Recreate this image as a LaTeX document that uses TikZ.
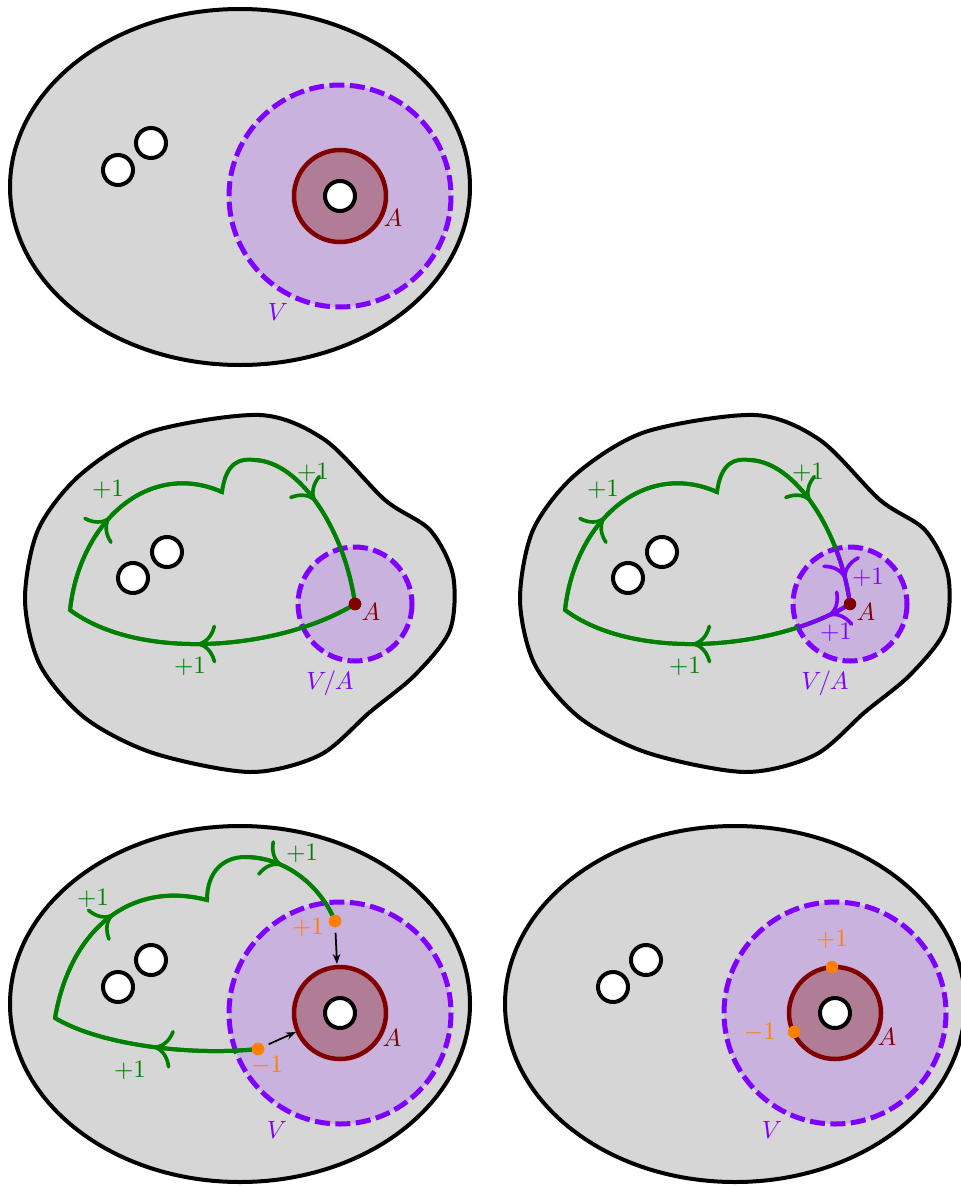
\documentclass[tikz,border=0pt]{standalone}
\usepackage{amsmath, amssymb, tikz}
\usetikzlibrary{positioning, decorations.markings, arrows.meta}

\definecolor{bggray}{RGB}{214,214,214}
\definecolor{vviolet}{RGB}{128,0,255}
\definecolor{vfill}{RGB}{201,179,222}
\definecolor{amaroon}{RGB}{128,0,0}
\definecolor{afill}{RGB}{176,124,150}
\definecolor{loopgreen}{RGB}{0,128,0}
\definecolor{dotorange}{RGB}{255,128,0}

\tikzset{
    region/.style={draw=black, fill=bggray, line width=1.6pt},
    hole/.style={draw=black, fill=white, line width=1.6pt},
    nbhd/.style={draw=vviolet, fill=vfill, line width=2pt, dash pattern=on 6pt off 2.2pt},
    aring/.style={draw=amaroon, fill=afill, line width=1.8pt},
    loopline/.style={draw=loopgreen, line width=1.6pt},
    vline/.style={draw=vviolet, line width=1.6pt},
    midarrow/.style={postaction={decorate}, decoration={markings, mark=at position #1 with {\arrow[scale=1.45]{Computer Modern Rightarrow[line width=1pt]}}}},
    adot/.style={circle, fill=amaroon, inner sep=0pt, minimum size=5pt},
    odot/.style={circle, fill=dotorange, inner sep=0pt, minimum size=5pt},
    pusharrow/.style={-{Stealth[length=4pt,width=3pt]}, line width=0.7pt, shorten <=2pt}
}

\begin{document}
\begin{tikzpicture}[x=0.4pt, y=-0.4pt]
    \useasboundingbox (0,0) rectangle (960,1186);

    % Top: region with neighbourhood V of A
    \draw[region] (240,187) ellipse (230 and 178);
    \draw[hole] (118,170) circle (15);
    \draw[hole] (151,143) circle (15);
    \draw[nbhd] (340,196) circle (111);
    \draw[aring] (340,196) circle (46);
    \draw[hole] (340,196) circle (15);
    \node[text=amaroon] (a_top) at (393,218) {$A$};
    \node[text=vviolet] (v_top) at (278,312) {$V$};

    % Middle left: loop through A in V/A
    \draw[region] plot[smooth cycle] coordinates {(260,415) (325,440) (385,500) (430,530) (453,575) (450,630) (415,675) (370,712) (320,755) (250,772) (153,753) (85,718) (40,665) (25,600) (38,530) (80,475) (150,432)};
    \draw[hole] (133,578) circle (15);
    \draw[hole] (167,552) circle (15);
    \draw[nbhd] (355,604) circle (57);
    \node[adot] (a_midl) at (355,604) {};
    \draw[loopline] (a_midl.center) .. controls (280,650) and (140,662) .. (70,610)
        .. controls (80,520) and (150,460) .. (222,492)
        .. controls (226,462) and (240,458) .. (255,460)
        .. controls (300,462) and (345,530) .. (a_midl.center);
    \path[loopline, midarrow=0.55] (a_midl.center) .. controls (280,650) and (140,662) .. (70,610);
    \path[loopline, midarrow=0.45] (70,610) .. controls (80,520) and (150,460) .. (222,492);
    \path[loopline, midarrow=0.4] (255,460) .. controls (300,462) and (345,530) .. (a_midl.center);
    \node[adot] at (a_midl) {};
    \node[text=amaroon] (lbl_a_midl) at (371,612) {$A$};
    \node[text=vviolet] (lbl_va_midl) at (330,683) {$V/A$};
    \node[text=loopgreen] (lbl_l1) at (108,489) {$+1$};
    \node[text=loopgreen] (lbl_l2) at (313,472) {$+1$};
    \node[text=loopgreen] (lbl_l3) at (190,666) {$+1$};

    % Middle right: same loop, local part near A
    \begin{scope}[shift={(495,0)}]
    \draw[region] plot[smooth cycle] coordinates {(260,415) (325,440) (385,500) (430,530) (453,575) (450,630) (415,675) (370,712) (320,755) (250,772) (153,753) (85,718) (40,665) (25,600) (38,530) (80,475) (150,432)};
    \draw[hole] (133,578) circle (15);
    \draw[hole] (167,552) circle (15);
    \draw[nbhd] (355,604) circle (57);
    \coordinate (a_midr) at (355,604);
    \draw[loopline] (a_midr) .. controls (280,650) and (140,662) .. (70,610)
        .. controls (80,520) and (150,460) .. (222,492)
        .. controls (226,462) and (240,458) .. (255,460)
        .. controls (300,462) and (345,530) .. (a_midr);
    \path[loopline, midarrow=0.55] (a_midr) .. controls (280,650) and (140,662) .. (70,610);
    \path[loopline, midarrow=0.45] (70,610) .. controls (80,520) and (150,460) .. (222,492);
    \path[loopline, midarrow=0.4] (255,460) .. controls (300,462) and (345,530) .. (a_midr);
    \begin{scope}
        \clip (a_midr) circle (57);
        \path[vline, midarrow=0.08] (a_midr) .. controls (280,650) and (140,662) .. (70,610);
        \path[vline, midarrow=0.86] (255,460) .. controls (300,462) and (345,530) .. (a_midr);
    \end{scope}
    \node[adot] (a_midr_dot) at (a_midr) {};
    \node[text=amaroon] (lbl_a_midr) at (371,612) {$A$};
    \node[text=vviolet] (lbl_va_midr) at (330,683) {$V/A$};
    \node[text=loopgreen] (lbl_r1) at (108,489) {$+1$};
    \node[text=loopgreen] (lbl_r2) at (313,472) {$+1$};
    \node[text=loopgreen] (lbl_r3) at (190,666) {$+1$};
    \node[text=vviolet] (lbl_r4) at (373,577) {$+1$};
    \node[text=vviolet] (lbl_r5) at (341,632) {$+1$};
    \end{scope}

    % Bottom left: loop cut open at the boundary of V
    \begin{scope}[shift={(0,817)}]
    \draw[region] (240,187) ellipse (230 and 178);
    \draw[hole] (118,170) circle (15);
    \draw[hole] (151,143) circle (15);
    \draw[nbhd] (340,196) circle (111);
    \draw[aring] (340,196) circle (46);
    \draw[hole] (340,196) circle (15);
    \end{scope}
    \coordinate (ring_top) at (337,964);
    \coordinate (ring_left) at (296,1032);
    \node[odot] (p_plus) at (335,921) {};
    \node[odot] (p_minus) at (258,1049) {};
    \draw[loopline] (p_minus.center) .. controls (190,1056) and (100,1045) .. (55,1018)
        .. controls (70,930) and (130,880) .. (207,900)
        .. controls (207,870) and (225,857) .. (245,857)
        .. controls (285,857) and (320,885) .. (p_plus.center);
    \path[loopline, midarrow=0.5] (p_minus.center) .. controls (190,1056) and (100,1045) .. (55,1018);
    \path[loopline, midarrow=0.55] (55,1018) .. controls (70,930) and (130,880) .. (207,900);
    \path[loopline, midarrow=0.32] (245,857) .. controls (285,857) and (320,885) .. (p_plus.center);
    \node[odot] at (p_plus) {};
    \node[odot] at (p_minus) {};
    \draw[pusharrow] (p_plus) -- (ring_top);
    \draw[pusharrow] (p_minus) -- (ring_left);
    \node[text=amaroon] (a_botl) at (392,1038) {$A$};
    \node[text=vviolet] (v_botl) at (277,1130) {$V$};
    \node[text=loopgreen] (lbl_b1) at (93,898) {$+1$};
    \node[text=loopgreen] (lbl_b2) at (302,853) {$+1$};
    \node[text=loopgreen] (lbl_b3) at (130,1070) {$+1$};
    \node[text=dotorange] (lbl_bp) at (308,927) {$+1$};
    \node[text=dotorange] (lbl_bm) at (267,1065) {$-1$};

    % Bottom right: net count on A
    \begin{scope}[shift={(495,817)}]
    \draw[region] (240,187) ellipse (230 and 178);
    \draw[hole] (118,170) circle (15);
    \draw[hole] (151,143) circle (15);
    \draw[nbhd] (340,196) circle (111);
    \draw[aring] (340,196) circle (46);
    \draw[hole] (340,196) circle (15);
    \node[odot] (q_plus) at (337,150) {};
    \node[odot] (q_minus) at (299,215) {};
    \node[text=dotorange, above=1pt of q_plus] (lbl_qp) {$+1$};
    \node[text=dotorange, left=1pt of q_minus] (lbl_qm) {$-1$};
    \node[text=amaroon] (a_botr) at (392,220) {$A$};
    \node[text=vviolet] (v_botr) at (277,313) {$V$};
    \end{scope}
\end{tikzpicture}
\end{document}
